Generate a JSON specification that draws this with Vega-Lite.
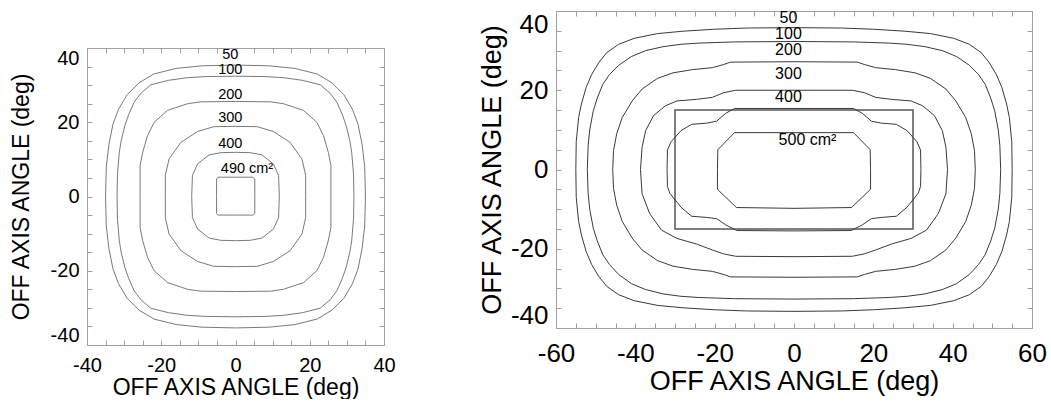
{
"$schema": "https://vega.github.io/schema/vega-lite/v6.json",
"padding": {"left": 10, "top": 9, "right": 0, "bottom": 0},
"config": {
 "font": "Liberation Sans",
 "view": {"stroke": null},
 "axis": {"grid": false, "domainColor": "#a0a0a0", "tickColor": "#a0a0a0", "labelColor": "#000", "titleColor": "#000", "titleFontWeight": "normal", "labelFont": "Liberation Sans", "titleFont": "Liberation Sans", "labelOverlap": false, "labelBound": false}
},
"datasets": {
 "left": [
{"c":"50","x":0,"y":35.4},{"c":"50","x":9,"y":35.2},{"c":"50","x":16,"y":34.5},{"c":"50","x":22,"y":33.0},{"c":"50","x":26,"y":30.6},{"c":"50","x":29.2,"y":27.4},{"c":"50","x":31.5,"y":23.5},{"c":"50","x":33.0,"y":19.5},{"c":"50","x":34.1,"y":14},{"c":"50","x":34.8,"y":8},{"c":"50","x":35.0,"y":0},
{"c":"50","x":34.8,"y":-8},{"c":"50","x":34.1,"y":-14},{"c":"50","x":33.0,"y":-19.5},{"c":"50","x":31.5,"y":-23.5},{"c":"50","x":29.2,"y":-27.4},{"c":"50","x":26,"y":-30.6},{"c":"50","x":22,"y":-33.0},{"c":"50","x":16,"y":-34.5},{"c":"50","x":9,"y":-35.2},{"c":"50","x":0,"y":-35.4},
{"c":"50","x":-9,"y":-35.2},{"c":"50","x":-16,"y":-34.5},{"c":"50","x":-22,"y":-33.0},{"c":"50","x":-26,"y":-30.6},{"c":"50","x":-29.2,"y":-27.4},{"c":"50","x":-31.5,"y":-23.5},{"c":"50","x":-33.0,"y":-19.5},{"c":"50","x":-34.1,"y":-14},{"c":"50","x":-34.8,"y":-8},{"c":"50","x":-35.0,"y":0},
{"c":"50","x":-34.8,"y":8},{"c":"50","x":-34.1,"y":14},{"c":"50","x":-33.0,"y":19.5},{"c":"50","x":-31.5,"y":23.5},{"c":"50","x":-29.2,"y":27.4},{"c":"50","x":-26,"y":30.6},{"c":"50","x":-22,"y":33.0},{"c":"50","x":-16,"y":34.5},{"c":"50","x":-9,"y":35.2},{"c":"50","x":0,"y":35.4},
{"c":"100","x":0,"y":32.4},{"c":"100","x":8,"y":32.3},{"c":"100","x":13,"y":32.0},{"c":"100","x":18,"y":31.3},{"c":"100","x":22.8,"y":30.1},{"c":"100","x":25.5,"y":27.8},{"c":"100","x":27.3,"y":25.4},{"c":"100","x":28.8,"y":22},{"c":"100","x":29.8,"y":19.1},{"c":"100","x":30.8,"y":15},{"c":"100","x":31.3,"y":11.9},{"c":"100","x":31.8,"y":6},{"c":"100","x":31.9,"y":0},
{"c":"100","x":31.8,"y":-6},{"c":"100","x":31.3,"y":-11.9},{"c":"100","x":30.8,"y":-15},{"c":"100","x":29.8,"y":-19.1},{"c":"100","x":28.8,"y":-22},{"c":"100","x":27.3,"y":-25.4},{"c":"100","x":25.5,"y":-27.8},{"c":"100","x":22.8,"y":-30.1},{"c":"100","x":18,"y":-31.3},{"c":"100","x":13,"y":-32.0},{"c":"100","x":8,"y":-32.3},{"c":"100","x":0,"y":-32.4},
{"c":"100","x":-8,"y":-32.3},{"c":"100","x":-13,"y":-32.0},{"c":"100","x":-18,"y":-31.3},{"c":"100","x":-22.8,"y":-30.1},{"c":"100","x":-25.5,"y":-27.8},{"c":"100","x":-27.3,"y":-25.4},{"c":"100","x":-28.8,"y":-22},{"c":"100","x":-29.8,"y":-19.1},{"c":"100","x":-30.8,"y":-15},{"c":"100","x":-31.3,"y":-11.9},{"c":"100","x":-31.8,"y":-6},{"c":"100","x":-31.9,"y":0},
{"c":"100","x":-31.8,"y":6},{"c":"100","x":-31.3,"y":11.9},{"c":"100","x":-30.8,"y":15},{"c":"100","x":-29.8,"y":19.1},{"c":"100","x":-28.8,"y":22},{"c":"100","x":-27.3,"y":25.4},{"c":"100","x":-25.5,"y":27.8},{"c":"100","x":-22.8,"y":30.1},{"c":"100","x":-18,"y":31.3},{"c":"100","x":-13,"y":32.0},{"c":"100","x":-8,"y":32.3},{"c":"100","x":0,"y":32.4},
{"c":"200","x":0,"y":25.6},{"c":"200","x":9.4,"y":25.5},{"c":"200","x":12.9,"y":25.0},{"c":"200","x":18.3,"y":23.2},{"c":"200","x":21.9,"y":20.0},{"c":"200","x":23.7,"y":16.4},{"c":"200","x":25.0,"y":11.9},{"c":"200","x":25.7,"y":8.3},{"c":"200","x":25.7,"y":0},
{"c":"200","x":25.7,"y":-8.3},{"c":"200","x":25.0,"y":-11.9},{"c":"200","x":23.7,"y":-16.4},{"c":"200","x":21.9,"y":-20.0},{"c":"200","x":18.3,"y":-23.2},{"c":"200","x":12.9,"y":-25.0},{"c":"200","x":9.4,"y":-25.5},{"c":"200","x":0,"y":-25.6},
{"c":"200","x":-9.4,"y":-25.5},{"c":"200","x":-12.9,"y":-25.0},{"c":"200","x":-18.3,"y":-23.2},{"c":"200","x":-21.9,"y":-20.0},{"c":"200","x":-23.7,"y":-16.4},{"c":"200","x":-25.0,"y":-11.9},{"c":"200","x":-25.7,"y":-8.3},{"c":"200","x":-25.7,"y":0},
{"c":"200","x":-25.7,"y":8.3},{"c":"200","x":-25.0,"y":11.9},{"c":"200","x":-23.7,"y":16.4},{"c":"200","x":-21.9,"y":20.0},{"c":"200","x":-18.3,"y":23.2},{"c":"200","x":-12.9,"y":25.0},{"c":"200","x":-9.4,"y":25.5},{"c":"200","x":0,"y":25.6},
{"c":"300","x":0,"y":18.9},{"c":"300","x":5.9,"y":18.8},{"c":"300","x":10.2,"y":17.5},{"c":"300","x":14.7,"y":14.6},{"c":"300","x":17.9,"y":10.1},{"c":"300","x":18.9,"y":5.7},{"c":"300","x":18.9,"y":0},
{"c":"300","x":18.9,"y":-5.7},{"c":"300","x":17.9,"y":-10.1},{"c":"300","x":14.7,"y":-14.6},{"c":"300","x":10.2,"y":-17.5},{"c":"300","x":5.9,"y":-18.8},{"c":"300","x":0,"y":-18.9},
{"c":"300","x":-5.9,"y":-18.8},{"c":"300","x":-10.2,"y":-17.5},{"c":"300","x":-14.7,"y":-14.6},{"c":"300","x":-17.9,"y":-10.1},{"c":"300","x":-18.9,"y":-5.7},{"c":"300","x":-18.9,"y":0},
{"c":"300","x":-18.9,"y":5.7},{"c":"300","x":-17.9,"y":10.1},{"c":"300","x":-14.7,"y":14.6},{"c":"300","x":-10.2,"y":17.5},{"c":"300","x":-5.9,"y":18.8},{"c":"300","x":0,"y":18.9},
{"c":"400","x":0,"y":11.9},{"c":"400","x":4,"y":11.8},{"c":"400","x":7.1,"y":11.2},{"c":"400","x":10.2,"y":8.8},{"c":"400","x":11.6,"y":5.7},{"c":"400","x":11.8,"y":0},
{"c":"400","x":11.6,"y":-5.7},{"c":"400","x":10.2,"y":-8.8},{"c":"400","x":7.1,"y":-11.2},{"c":"400","x":4,"y":-11.8},{"c":"400","x":0,"y":-11.9},
{"c":"400","x":-4,"y":-11.8},{"c":"400","x":-7.1,"y":-11.2},{"c":"400","x":-10.2,"y":-8.8},{"c":"400","x":-11.6,"y":-5.7},{"c":"400","x":-11.8,"y":0},
{"c":"400","x":-11.6,"y":5.7},{"c":"400","x":-10.2,"y":8.8},{"c":"400","x":-7.1,"y":11.2},{"c":"400","x":-4,"y":11.8},{"c":"400","x":0,"y":11.9},
{"c":"490","x":0,"y":5.2},{"c":"490","x":4.7,"y":5.2},{"c":"490","x":5.2,"y":4.7},{"c":"490","x":5.2,"y":0},{"c":"490","x":5.2,"y":-4.6},{"c":"490","x":4.7,"y":-5.0},{"c":"490","x":0,"y":-5.0},{"c":"490","x":-4.7,"y":-5.0},{"c":"490","x":-5.1,"y":-4.6},{"c":"490","x":-5.1,"y":0},{"c":"490","x":-5.1,"y":4.7},{"c":"490","x":-4.7,"y":5.2},{"c":"490","x":0,"y":5.2}
 ],
 "leftLabels": [
{"t":"50","x":-1.4,"y":38.1},{"t":"100","x":-1.4,"y":34.0},{"t":"200","x":-1.4,"y":27.4},{"t":"300","x":-1.4,"y":21.1},{"t":"400","x":-1.4,"y":14.2},{"t":"490 cm²","x":3.1,"y":7.3}
 ],
 "right": [
{"c":"50","x":0,"y":35.8},{"c":"50","x":12,"y":35.7},{"c":"50","x":20,"y":35.4},{"c":"50","x":28,"y":34.9},{"c":"50","x":34.4,"y":34.3},{"c":"50","x":40.3,"y":33.1},{"c":"50","x":44.2,"y":31.6},{"c":"50","x":47.2,"y":29.5},{"c":"50","x":49.2,"y":27.0},{"c":"50","x":51.0,"y":24.0},{"c":"50","x":52.4,"y":20.7},{"c":"50","x":53.6,"y":16.5},{"c":"50","x":54.3,"y":13.1},{"c":"50","x":54.9,"y":7},{"c":"50","x":55.0,"y":0},
{"c":"50","x":54.9,"y":-7},{"c":"50","x":54.3,"y":-13.1},{"c":"50","x":53.6,"y":-16.5},{"c":"50","x":52.4,"y":-20.7},{"c":"50","x":51.0,"y":-24.0},{"c":"50","x":49.2,"y":-27.0},{"c":"50","x":47.2,"y":-29.5},{"c":"50","x":44.2,"y":-31.6},{"c":"50","x":40.3,"y":-33.1},{"c":"50","x":34.4,"y":-34.3},{"c":"50","x":28,"y":-34.9},{"c":"50","x":20,"y":-35.4},{"c":"50","x":12,"y":-35.7},{"c":"50","x":0,"y":-35.8},
{"c":"50","x":-12,"y":-35.7},{"c":"50","x":-20,"y":-35.4},{"c":"50","x":-28,"y":-34.9},{"c":"50","x":-34.4,"y":-34.3},{"c":"50","x":-40.3,"y":-33.1},{"c":"50","x":-44.2,"y":-31.6},{"c":"50","x":-47.2,"y":-29.5},{"c":"50","x":-49.2,"y":-27.0},{"c":"50","x":-51.0,"y":-24.0},{"c":"50","x":-52.4,"y":-20.7},{"c":"50","x":-53.6,"y":-16.5},{"c":"50","x":-54.3,"y":-13.1},{"c":"50","x":-54.9,"y":-7},{"c":"50","x":-55.0,"y":0},
{"c":"50","x":-54.9,"y":7},{"c":"50","x":-54.3,"y":13.1},{"c":"50","x":-53.6,"y":16.5},{"c":"50","x":-52.4,"y":20.7},{"c":"50","x":-51.0,"y":24.0},{"c":"50","x":-49.2,"y":27.0},{"c":"50","x":-47.2,"y":29.5},{"c":"50","x":-44.2,"y":31.6},{"c":"50","x":-40.3,"y":33.1},{"c":"50","x":-34.4,"y":34.3},{"c":"50","x":-28,"y":34.9},{"c":"50","x":-20,"y":35.4},{"c":"50","x":-12,"y":35.7},{"c":"50","x":0,"y":35.8},
{"c":"100","x":0,"y":32.3},{"c":"100","x":15,"y":32.2},{"c":"100","x":24,"y":31.9},{"c":"100","x":28.5,"y":31.6},{"c":"100","x":33,"y":31.0},{"c":"100","x":37.4,"y":30.0},{"c":"100","x":41,"y":28.5},{"c":"100","x":44.2,"y":26.3},{"c":"100","x":46.5,"y":24},{"c":"100","x":48.2,"y":21.5},{"c":"100","x":49.6,"y":18},{"c":"100","x":50.6,"y":14.8},{"c":"100","x":51.5,"y":10},{"c":"100","x":51.9,"y":6},{"c":"100","x":52.1,"y":0},
{"c":"100","x":51.9,"y":-6},{"c":"100","x":51.5,"y":-10},{"c":"100","x":50.6,"y":-14.8},{"c":"100","x":49.6,"y":-18},{"c":"100","x":48.2,"y":-21.5},{"c":"100","x":46.5,"y":-24},{"c":"100","x":44.2,"y":-26.5},{"c":"100","x":41,"y":-28.8},{"c":"100","x":37.4,"y":-30.3},{"c":"100","x":33,"y":-31.4},{"c":"100","x":28.5,"y":-32.0},{"c":"100","x":24,"y":-32.3},{"c":"100","x":15,"y":-32.6},{"c":"100","x":0,"y":-32.7},
{"c":"100","x":-15,"y":-32.6},{"c":"100","x":-24,"y":-32.3},{"c":"100","x":-28.5,"y":-32.0},{"c":"100","x":-33,"y":-31.4},{"c":"100","x":-37.4,"y":-30.3},{"c":"100","x":-41,"y":-28.8},{"c":"100","x":-44.2,"y":-26.5},{"c":"100","x":-46.5,"y":-24},{"c":"100","x":-48.2,"y":-21.5},{"c":"100","x":-49.6,"y":-18},{"c":"100","x":-50.6,"y":-14.8},{"c":"100","x":-51.5,"y":-10},{"c":"100","x":-51.9,"y":-6},{"c":"100","x":-52.1,"y":0},
{"c":"100","x":-51.9,"y":6},{"c":"100","x":-51.5,"y":10},{"c":"100","x":-50.6,"y":14.8},{"c":"100","x":-49.6,"y":18},{"c":"100","x":-48.2,"y":21.5},{"c":"100","x":-46.5,"y":24},{"c":"100","x":-44.2,"y":26.3},{"c":"100","x":-41,"y":28.5},{"c":"100","x":-37.4,"y":30.0},{"c":"100","x":-33,"y":31.0},{"c":"100","x":-28.5,"y":31.6},{"c":"100","x":-24,"y":31.9},{"c":"100","x":-15,"y":32.2},{"c":"100","x":0,"y":32.3},
{"c":"200","x":0,"y":27.2},{"c":"200","x":16,"y":27.1},{"c":"200","x":17.7,"y":26.5},{"c":"200","x":20.6,"y":25.7},{"c":"200","x":25.6,"y":25.2},{"c":"200","x":30.5,"y":24.4},{"c":"200","x":34.4,"y":23.0},{"c":"200","x":38.3,"y":20.3},{"c":"200","x":40.8,"y":17.3},{"c":"200","x":43.3,"y":13.1},{"c":"200","x":44.7,"y":9.0},{"c":"200","x":45.5,"y":4.8},{"c":"200","x":45.7,"y":0},
{"c":"200","x":45.5,"y":-4.8},{"c":"200","x":44.7,"y":-9.0},{"c":"200","x":43.3,"y":-13.1},{"c":"200","x":40.8,"y":-17.3},{"c":"200","x":38.3,"y":-20.3},{"c":"200","x":34.4,"y":-23.0},{"c":"200","x":30.5,"y":-24.4},{"c":"200","x":25.6,"y":-25.2},{"c":"200","x":20.6,"y":-25.7},{"c":"200","x":17.7,"y":-26.5},{"c":"200","x":16,"y":-27.1},{"c":"200","x":0,"y":-27.2},
{"c":"200","x":-16,"y":-27.1},{"c":"200","x":-17.7,"y":-26.5},{"c":"200","x":-20.6,"y":-25.7},{"c":"200","x":-25.6,"y":-25.2},{"c":"200","x":-30.5,"y":-24.4},{"c":"200","x":-34.4,"y":-23.0},{"c":"200","x":-38.3,"y":-20.3},{"c":"200","x":-40.8,"y":-17.3},{"c":"200","x":-43.3,"y":-13.1},{"c":"200","x":-44.7,"y":-9.0},{"c":"200","x":-45.5,"y":-4.8},{"c":"200","x":-45.7,"y":0},
{"c":"200","x":-45.5,"y":4.8},{"c":"200","x":-44.7,"y":9.0},{"c":"200","x":-43.3,"y":13.1},{"c":"200","x":-40.8,"y":17.3},{"c":"200","x":-38.3,"y":20.3},{"c":"200","x":-34.4,"y":23.0},{"c":"200","x":-30.5,"y":24.4},{"c":"200","x":-25.6,"y":25.2},{"c":"200","x":-20.6,"y":25.7},{"c":"200","x":-17.7,"y":26.5},{"c":"200","x":-16,"y":27.1},{"c":"200","x":0,"y":27.2},
{"c":"300","x":0,"y":20.0},{"c":"300","x":14.7,"y":20.0},{"c":"300","x":17.7,"y":19.4},{"c":"300","x":20.6,"y":18.2},{"c":"300","x":24.6,"y":17.7},{"c":"300","x":29.5,"y":17.3},{"c":"300","x":32.4,"y":16.1},{"c":"300","x":35.4,"y":13.6},{"c":"300","x":37.4,"y":9.8},{"c":"300","x":38.3,"y":5.6},{"c":"300","x":38.7,"y":0},
{"c":"300","x":38.3,"y":-6.1},{"c":"300","x":36.4,"y":-11.1},{"c":"300","x":33.4,"y":-15.3},{"c":"300","x":29.5,"y":-17.4},{"c":"300","x":24.6,"y":-18.8},{"c":"300","x":20.6,"y":-20.3},{"c":"300","x":17.7,"y":-21.3},{"c":"300","x":14.7,"y":-21.9},{"c":"300","x":0,"y":-22.0},
{"c":"300","x":-14.7,"y":-21.9},{"c":"300","x":-17.7,"y":-21.3},{"c":"300","x":-20.6,"y":-20.3},{"c":"300","x":-24.6,"y":-18.8},{"c":"300","x":-29.5,"y":-17.4},{"c":"300","x":-33.4,"y":-15.3},{"c":"300","x":-36.4,"y":-11.1},{"c":"300","x":-38.3,"y":-6.1},{"c":"300","x":-38.7,"y":0},
{"c":"300","x":-38.3,"y":5.6},{"c":"300","x":-37.4,"y":9.8},{"c":"300","x":-35.4,"y":13.6},{"c":"300","x":-32.4,"y":16.1},{"c":"300","x":-29.5,"y":17.3},{"c":"300","x":-24.6,"y":17.7},{"c":"300","x":-20.6,"y":18.2},{"c":"300","x":-17.7,"y":19.4},{"c":"300","x":-14.7,"y":20.0},{"c":"300","x":0,"y":20.0},
{"c":"400","x":0,"y":15.4},{"c":"400","x":15,"y":15.4},{"c":"400","x":17.2,"y":14.2},{"c":"400","x":19.5,"y":12.2},{"c":"400","x":22,"y":11.7},{"c":"400","x":25.8,"y":11.4},{"c":"400","x":28.5,"y":9.8},{"c":"400","x":31.0,"y":7.0},{"c":"400","x":31.9,"y":4.9},{"c":"400","x":32.0,"y":0},
{"c":"400","x":31.9,"y":-4.3},{"c":"400","x":31.3,"y":-6.0},{"c":"400","x":28.5,"y":-9.5},{"c":"400","x":25.8,"y":-11.8},{"c":"400","x":22,"y":-12.1},{"c":"400","x":19.5,"y":-12.4},{"c":"400","x":17.2,"y":-14.0},{"c":"400","x":14.4,"y":-15.4},{"c":"400","x":0,"y":-15.5},
{"c":"400","x":-14.4,"y":-15.4},{"c":"400","x":-17.2,"y":-14.0},{"c":"400","x":-19.5,"y":-12.4},{"c":"400","x":-22,"y":-12.1},{"c":"400","x":-25.8,"y":-11.8},{"c":"400","x":-28.5,"y":-9.5},{"c":"400","x":-31.3,"y":-6.0},{"c":"400","x":-31.9,"y":-4.3},{"c":"400","x":-32.0,"y":0},
{"c":"400","x":-31.9,"y":4.9},{"c":"400","x":-31.0,"y":7.0},{"c":"400","x":-28.5,"y":9.8},{"c":"400","x":-25.8,"y":11.4},{"c":"400","x":-22,"y":11.7},{"c":"400","x":-19.5,"y":12.2},{"c":"400","x":-17.2,"y":14.2},{"c":"400","x":-15,"y":15.4},{"c":"400","x":0,"y":15.4},
{"c":"500","x":0,"y":9.3},{"c":"500","x":15,"y":9.3},{"c":"500","x":19.2,"y":5.0},{"c":"500","x":19.3,"y":0},{"c":"500","x":19.3,"y":-5.0},{"c":"500","x":14.5,"y":-9.6},{"c":"500","x":0,"y":-9.8},{"c":"500","x":-14.5,"y":-9.6},{"c":"500","x":-19.3,"y":-5.0},{"c":"500","x":-19.3,"y":0},{"c":"500","x":-19.2,"y":5.0},{"c":"500","x":-15,"y":9.3},{"c":"500","x":0,"y":9.3}
 ],
 "rightLabels": [
{"t":"50","x":-1.4,"y":38.3},{"t":"100","x":-1.4,"y":34.3},{"t":"200","x":-1.4,"y":30.2},{"t":"300","x":-1.4,"y":24.2},{"t":"400","x":-1.4,"y":18.2},{"t":"500 cm²","x":3.4,"y":7.4}
 ],
 "box": [{"x1":-30,"x2":30,"y1":-15,"y2":15}]
},
"hconcat": [
 {
  "spacing": 0,
  "vconcat": [
   {"width": 297, "height": 36, "data": {"values": [{}]}, "mark": {"type": "text", "text": ""}},
   {
    "width": 297, "height": 297,
    "layer": [
     {
      "data": {"name": "left"},
      "mark": {"type": "line", "stroke": "#7a7a7a", "strokeWidth": 1},
      "encoding": {
       "x": {"field": "x", "type": "quantitative", "scale": {"domain": [-40, 40], "nice": false, "zero": false},
        "axis": {"orient": "bottom", "values": [-40,-35,-30,-25,-20,-15,-10,-5,0,5,10,15,20,25,30,35,40], "labelExpr": "datum.value % 20 === 0 ? '' + datum.value : ''", "tickSize": -5, "labelPadding": 15, "labelFontSize": 20, "labelFlush": false, "title": "OFF AXIS ANGLE (deg)", "titleFontSize": 23, "titlePadding": 1}},
       "y": {"field": "y", "type": "quantitative", "scale": {"domain": [-40, 40], "nice": false, "zero": false},
        "axis": {"orient": "left", "values": [-40,-35,-30,-25,-20,-15,-10,-5,0,5,10,15,20,25,30,35,40], "labelExpr": "datum.value % 20 === 0 ? '' + datum.value : ''", "tickSize": -5, "labelPadding": 13, "labelFontSize": 20, "labelFlush": true, "title": "OFF AXIS ANGLE (deg)", "titleFontSize": 23, "titlePadding": 17}},
       "detail": {"field": "c"},
       "order": {"value": null}
      }
     },
     {
      "data": {"name": "leftLabels"},
      "mark": {"type": "text", "fontSize": 14.5, "color": "#000", "align": "center", "baseline": "middle"},
      "encoding": {
       "x": {"field": "x", "type": "quantitative", "scale": {"domain": [-40, 40], "nice": false, "zero": false},
        "axis": {"orient": "top", "values": [-40,-35,-30,-25,-20,-15,-10,-5,0,5,10,15,20,25,30,35,40], "labels": false, "tickSize": -5, "title": null}},
       "y": {"field": "y", "type": "quantitative", "scale": {"domain": [-40, 40], "nice": false, "zero": false},
        "axis": {"orient": "right", "values": [-40,-35,-30,-25,-20,-15,-10,-5,0,5,10,15,20,25,30,35,40], "labels": false, "tickSize": -5, "title": null}},
       "text": {"field": "t"}
      }
     }
    ],
    "resolve": {"axis": {"x": "independent", "y": "independent"}}
   }
  ]
 },
 {
  "width": 476, "height": 317,
  "layer": [
   {
    "data": {"name": "box"},
    "mark": {"type": "rect", "filled": false, "stroke": "#555555", "strokeWidth": 1.5},
    "encoding": {
     "x": {"field": "x1", "type": "quantitative", "scale": {"domain": [-60, 60], "nice": false, "zero": false},
      "axis": {"orient": "bottom", "values": [-60,-55,-50,-45,-40,-35,-30,-25,-20,-15,-10,-5,0,5,10,15,20,25,30,35,40,45,50,55,60], "labelExpr": "datum.value % 20 === 0 ? '' + datum.value : ''", "tickSize": -5, "labelPadding": 17, "labelFontSize": 26, "labelFlush": false, "title": "OFF AXIS ANGLE (deg)", "titleFontSize": 27, "titlePadding": 2}},
     "x2": {"field": "x2"},
     "y": {"field": "y1", "type": "quantitative", "scale": {"domain": [-40, 40], "nice": false, "zero": false},
      "axis": {"orient": "left", "values": [-40,-35,-30,-25,-20,-15,-10,-5,0,5,10,15,20,25,30,35,40], "labelExpr": "datum.value % 20 === 0 ? '' + datum.value : ''", "tickSize": -5, "labelPadding": 13, "labelFontSize": 26, "labelFlush": true, "title": "OFF AXIS ANGLE (deg)", "titleFontSize": 27, "titlePadding": 4}},
     "y2": {"field": "y2"}
    }
   },
   {
    "data": {"name": "right"},
    "mark": {"type": "line", "stroke": "#3a3a3a", "strokeWidth": 1},
    "encoding": {
     "x": {"field": "x", "type": "quantitative", "scale": {"domain": [-60, 60], "nice": false, "zero": false},
      "axis": {"orient": "top", "values": [-60,-55,-50,-45,-40,-35,-30,-25,-20,-15,-10,-5,0,5,10,15,20,25,30,35,40,45,50,55,60], "labels": false, "tickSize": -5, "title": null}},
     "y": {"field": "y", "type": "quantitative", "scale": {"domain": [-40, 40], "nice": false, "zero": false},
      "axis": {"orient": "right", "values": [-40,-35,-30,-25,-20,-15,-10,-5,0,5,10,15,20,25,30,35,40], "labels": false, "tickSize": -5, "title": null}},
     "detail": {"field": "c"},
     "order": {"value": null}
    }
   },
   {
    "data": {"name": "rightLabels"},
    "mark": {"type": "text", "fontSize": 16, "color": "#000", "align": "center", "baseline": "middle"},
    "encoding": {
     "x": {"field": "x", "type": "quantitative", "scale": {"domain": [-60, 60], "nice": false, "zero": false}, "axis": null},
     "y": {"field": "y", "type": "quantitative", "scale": {"domain": [-40, 40], "nice": false, "zero": false}, "axis": null},
     "text": {"field": "t"}
    }
   }
  ],
  "resolve": {"axis": {"x": "independent", "y": "independent"}}
 }
],
"spacing": 82
}
